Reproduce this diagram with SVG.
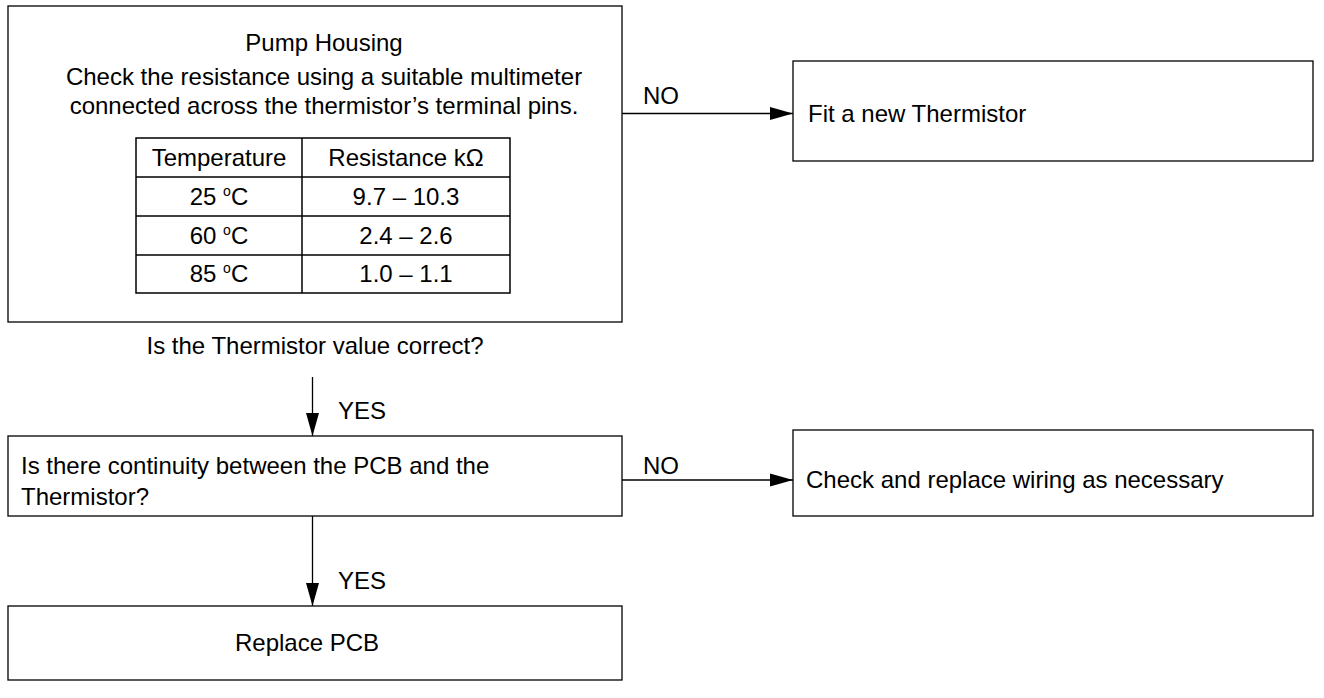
<svg xmlns="http://www.w3.org/2000/svg" width="1324" height="698" viewBox="0 0 1324 698">
<style>
.box{fill:#fff;stroke:#000;stroke-width:1.3}
.cell{fill:none;stroke:#000;stroke-width:1.5}
text{font-family:"Liberation Sans",Arial,sans-serif;font-size:24px;fill:#000}
.c{text-anchor:middle}
.ln{stroke:#000;stroke-width:1.3;fill:none}
.deg{font-size:14px}
</style>
<defs>
<marker id="ah" markerWidth="23" markerHeight="14" refX="23" refY="7" orient="auto" markerUnits="userSpaceOnUse">
<path d="M0,0.5 L23,7 L0,13.5 Z" fill="#000"/>
</marker>
</defs>
<g id="node-pump">
<rect class="box" x="8" y="6" width="614" height="316"/>
<text class="c" x="324" y="51">Pump Housing</text>
<text class="c" x="324" y="85">Check the resistance using a suitable multimeter</text>
<text class="c" x="324" y="114">connected across the thermistor’s terminal pins.</text>
<rect class="cell" x="136" y="138" width="374" height="155"/>
<line class="cell" x1="302" y1="138" x2="302" y2="293"/>
<line class="cell" x1="136" y1="177" x2="510" y2="177"/>
<line class="cell" x1="136" y1="216" x2="510" y2="216"/>
<line class="cell" x1="136" y1="255" x2="510" y2="255"/>
<text class="c" x="219" y="166">Temperature</text>
<text class="c" x="406" y="166">Resistance kΩ</text>
<text class="c" x="219" y="205">25 <tspan class="deg" dy="-9">o</tspan><tspan dy="9">C</tspan></text>
<text class="c" x="406" y="205">9.7 – 10.3</text>
<text class="c" x="219" y="244">60 <tspan class="deg" dy="-9">o</tspan><tspan dy="9">C</tspan></text>
<text class="c" x="406" y="244">2.4 – 2.6</text>
<text class="c" x="219" y="282">85 <tspan class="deg" dy="-9">o</tspan><tspan dy="9">C</tspan></text>
<text class="c" x="406" y="282">1.0 – 1.1</text>
</g>
<g id="node-question">
<text class="c" x="315" y="354">Is the Thermistor value correct?</text>
</g>
<g id="node-fit">
<rect class="box" x="793" y="61" width="520" height="100"/>
<text x="808" y="122">Fit a new Thermistor</text>
</g>
<g id="node-continuity">
<rect class="box" x="8" y="436" width="614" height="80"/>
<text x="21" y="474">Is there continuity between the PCB and the</text>
<text x="21" y="505">Thermistor?</text>
</g>
<g id="node-wiring">
<rect class="box" x="793" y="430" width="520" height="86"/>
<text x="806" y="488">Check and replace wiring as necessary</text>
</g>
<g id="node-replace">
<rect class="box" x="8" y="606" width="614" height="74"/>
<text class="c" x="307" y="651">Replace PCB</text>
</g>
<g id="connectors">
<line class="ln" x1="622" y1="113.5" x2="793" y2="113.5" marker-end="url(#ah)"/>
<text x="643" y="104">NO</text>
<line class="ln" x1="312.5" y1="377" x2="312.5" y2="436" marker-end="url(#ah)"/>
<text x="338" y="419">YES</text>
<line class="ln" x1="622" y1="480" x2="793" y2="480" marker-end="url(#ah)"/>
<text x="643" y="474">NO</text>
<line class="ln" x1="312.5" y1="516" x2="312.5" y2="606" marker-end="url(#ah)"/>
<text x="338" y="589">YES</text>
</g>
</svg>
